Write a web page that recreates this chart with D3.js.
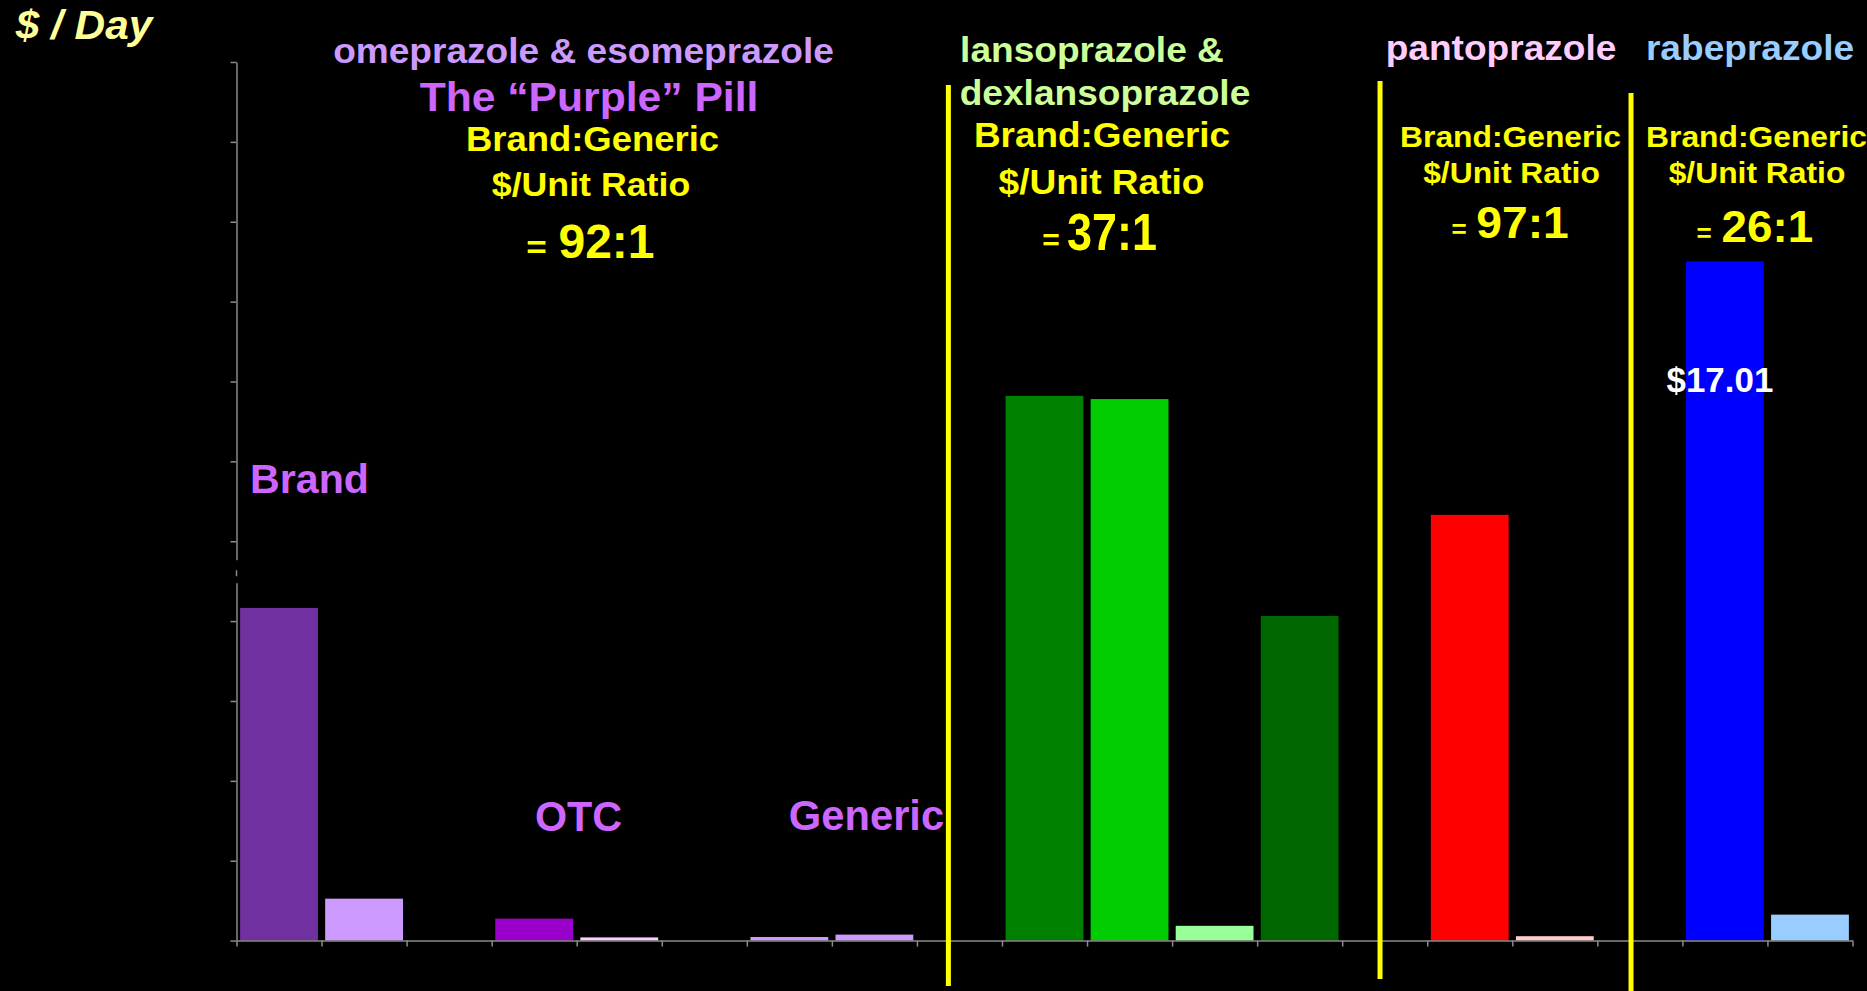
<!DOCTYPE html>
<html>
<head>
<meta charset="utf-8">
<script src="https://cdn.jsdelivr.net/npm/d3@7"></script>
<style>
  html, body { margin: 0; padding: 0; background: #000; }
  svg { display: block; }
  text { font-family: "Liberation Sans", Arial, sans-serif; font-weight: bold; }
</style>
</head>
<body>
<svg id="chart" width="1867" height="991"></svg>
<script>
// ---- data -------------------------------------------------------------
// One slot per bar position; empty slots separate the drug groups.
const categories = [
  "omeprazole brand", "esomeprazole brand", "gap 1",
  "omeprazole OTC", "esomeprazole OTC", "gap 2",
  "omeprazole generic", "esomeprazole generic", "gap 3",
  "lansoprazole brand", "dexlansoprazole brand", "lansoprazole generic", "lansoprazole solutab",
  "gap 4",
  "pantoprazole brand", "pantoprazole generic", "gap 5",
  "rabeprazole brand", "rabeprazole generic"
];
// Cost in dollars per day (null = empty slot)
const costPerDay = [
  8.33, 1.05, null,
  0.55, 0.08, null,
  0.09, 0.15, null,
  13.64, 13.56, 0.37, 8.13,
  null,
  10.66, 0.11, null,
  17.01, 0.65
];
const barFill = [
  "#7030A0", "#CC99FF", null,
  "#9900CC", "#FFCCFF", null,
  "#CC99FF", "#CC99FF", null,
  "#008000", "#00CC00", "#99FF99", "#006600",
  null,
  "#FF0000", "#FFCCCC", null,
  "#0000FF", "#99CCFF"
];
const yTickValues = [0, 2, 4, 6, 8, 10, 12, 14, 16, 18, 20, 22];
const ratios = ["92:1", "37:1", "97:1", "26:1"];
const valueLabelIndex = 17;   // bar whose price is printed on it

// ---- layout -----------------------------------------------------------
const svg = d3.select("#chart");
const plot = { left: 236.5, right: 1852.5, top: 62, bottom: 940.6 };

const x = d3.scaleBand()
  .domain(categories)
  .range([plot.left, plot.right])
  .padding(0);
const slotEdge = d3.scaleLinear()
  .domain([0, categories.length])
  .range([plot.left, plot.right]);
const y = d3.scaleLinear()
  .domain([0, d3.max(yTickValues)])
  .range([plot.bottom, plot.top]);

const axisColor = "#8a8a8a";

// ---- bars -------------------------------------------------------------
const barW = x.bandwidth() * 0.915;
const bars = categories.map((c, i) => ({ c, v: costPerDay[i], fill: barFill[i] }))
  .filter(d => d.v != null);

svg.append("g").selectAll("rect")
  .data(bars)
  .join("rect")
  .attr("x", d => x(d.c) + (x.bandwidth() - barW) / 2)
  .attr("width", barW)
  .attr("y", d => y(d.v))
  .attr("height", d => y(0) - y(d.v))
  .attr("fill", d => d.fill);

// ---- axes -------------------------------------------------------------
const yAxis = svg.append("g")
  .attr("transform", `translate(${plot.left},0)`)
  .call(d3.axisLeft(y).tickValues(yTickValues).tickFormat("").tickSize(6).tickSizeOuter(0));
yAxis.selectAll("path, line").attr("stroke", axisColor).attr("stroke-width", 1.5);

const xAxis = svg.append("g")
  .attr("transform", `translate(0,${plot.bottom})`)
  .call(d3.axisBottom(slotEdge).tickValues(d3.range(0, categories.length + 1)).tickFormat("").tickSize(6).tickSizeOuter(0));
xAxis.selectAll("path, line").attr("stroke", axisColor).attr("stroke-width", 1.5);

// axis break marker between the $8 and $10 ticks
const brk = y(9.25);
svg.append("rect").attr("x", plot.left - 3).attr("width", 6)
  .attr("y", brk - 11).attr("height", 23).attr("fill", "#000");
svg.append("line").attr("x1", plot.left).attr("x2", plot.left)
  .attr("y1", brk - 1).attr("y2", brk + 5)
  .attr("stroke", axisColor).attr("stroke-width", 1.5);

// ---- group separators ---------------------------------------------------
const separators = [
  { at: 8.37, top: 85, bottom: 986 },
  { at: 13.445, top: 81, bottom: 979 },
  { at: 16.396, top: 93, bottom: 991 }
];
svg.append("g").selectAll("line")
  .data(separators)
  .join("line")
  .attr("x1", d => slotEdge(d.at)).attr("x2", d => slotEdge(d.at))
  .attr("y1", d => d.top).attr("y2", d => d.bottom)
  .attr("stroke", "#FFFF00").attr("stroke-width", 5);

// ---- text -------------------------------------------------------------
function label(t, cx, base, size, color, sx = 1, italic = false) {
  svg.append("text")
    .attr("transform", `translate(${cx},${base}) scale(${sx},1)`)
    .attr("text-anchor", "middle")
    .attr("font-size", size)
    .attr("font-style", italic ? "italic" : "normal")
    .attr("fill", color)
    .text(t);
}

const YEL = "#FFFF00";
label("$ / Day", 84, 39, 40, "#FFFF99", 1.06, true);

// omeprazole & esomeprazole
label("omeprazole & esomeprazole", 583.5, 63, 35, "#CC99FF", 1.06);
label("The \u201CPurple\u201D Pill", 589, 111, 41, "#CC66FF", 1.04);
label("Brand:Generic", 592.5, 151.3, 34.4, YEL, 1.06);
label("$/Unit Ratio", 591, 196, 33.7, YEL, 1.06);
label("=", 536.5, 258, 32, YEL, 1.1);
label(ratios[0], 606.5, 258, 48, YEL, 1.0);

// lansoprazole & dexlansoprazole
label("lansoprazole &", 1092, 62, 35, "#CCFF99", 1.06);
label("dexlansoprazole", 1105, 105, 35, "#CCFF99", 1.06);
label("Brand:Generic", 1102, 146.5, 34.8, YEL, 1.06);
label("$/Unit Ratio", 1101.5, 194, 35, YEL, 1.06);
label("=", 1051, 250, 30, YEL, 1.0);
label(ratios[1], 1112, 250, 51.6, YEL, 0.87);

// pantoprazole
label("pantoprazole", 1501, 60, 35, "#FFCCFF", 1.06);
label("Brand:Generic", 1510.5, 146.7, 30, YEL, 1.06);
label("$/Unit Ratio", 1511.5, 183, 30, YEL, 1.06);
label("=", 1459, 238, 26, YEL, 1.0);
label(ratios[2], 1522.5, 238, 44, YEL, 1.05);

// rabeprazole
label("rabeprazole", 1750, 60, 35, "#99CCFF", 1.06);
label("Brand:Generic", 1756.5, 146.7, 30, YEL, 1.06);
label("$/Unit Ratio", 1757, 183, 30, YEL, 1.06);
label("=", 1704, 241.7, 26, YEL, 1.0);
label(ratios[3], 1767.3, 241.7, 44, YEL, 1.04);

// product-type labels
label("Brand", 309.5, 493.3, 40, "#CC66FF", 1.03);
label("OTC", 578.5, 831, 43, "#CC66FF", 0.96);
label("Generic", 866.5, 830, 43, "#CC66FF", 0.97);

// price printed on the rabeprazole brand bar
const vl = costPerDay[valueLabelIndex];
label("$" + d3.format(".2f")(vl),
  x(categories[valueLabelIndex]) + x.bandwidth() / 2 - 5,
  y(vl) + 131, 36, "#FFFFFF", 0.97);
</script>
</body>
</html>
